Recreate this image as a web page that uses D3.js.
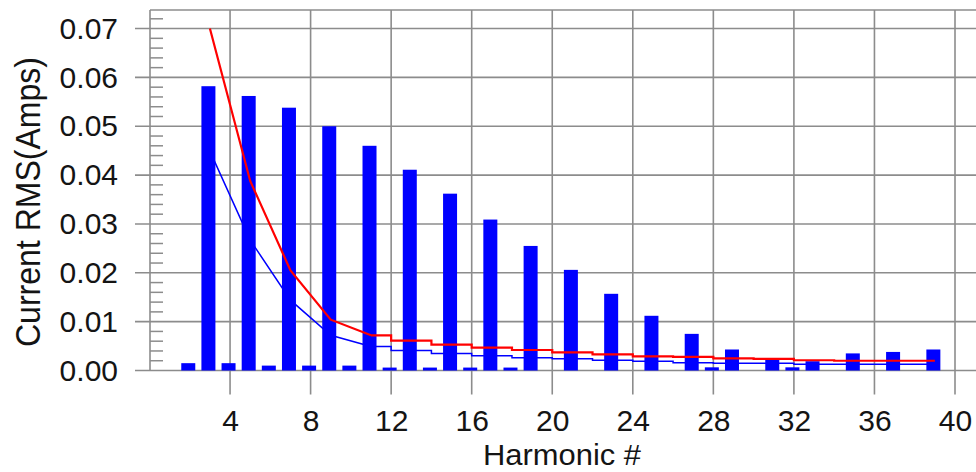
<!DOCTYPE html>
<html><head><meta charset="utf-8">
<script src="https://cdn.jsdelivr.net/npm/d3@7"></script>
<style>html,body{margin:0;padding:0;background:#fff;} svg{display:block}</style>
</head><body><svg id="c" width="976" height="472"></svg>
<script>
// ---- data ----
const harmonics = [2,3,4,5,6,7,8,9,10,11,12,13,14,15,16,17,18,19,20,21,22,23,24,25,26,27,28,29,30,31,32,33,34,35,36,37,38,39];
const measured  = [0.0015,0.0582,0.0015,0.0562,0.0010,0.0538,0.0010,0.0500,0.0010,0.0460,0.0006,0.0411,0.0006,0.0362,0.0006,0.0309,0.0006,0.0255,0,0.0206,0,0.0157,0,0.0112,0,0.0075,0.00065,0.0043,0,0.0024,0.00065,0.0019,0,0.0035,0,0.0038,0,0.0043];
const limitHarmonics = [3,5,7,9,11,13,15,17,19,21,23,25,27,29,31,33,35,37,39];
const limitRed  = [0.0700,0.0388,0.0205,0.0104,0.0072,0.0061,0.0053,0.0047,0.0042,0.0037,0.0033,0.0029,0.0028,0.0025,0.0024,0.0021,0.0020,0.0020,0.0020];
const limitBlue = [0.0449,0.0267,0.0144,0.0072,0.0049,0.0041,0.0035,0.0030,0.0026,0.0024,0.0021,0.0019,0.0016,0.0015,0.0015,0.0013,0.0013,0.0013,0.0013];
const yTicks = [0,0.01,0.02,0.03,0.04,0.05,0.06,0.07];
const yMinorTicks = d3.range(0.002, 0.0735, 0.002);
const xTicks = [4,8,12,16,20,24,28,32,36,40];
const xTitle = "Harmonic #";
const yTitle = "Current RMS(Amps)";

// ---- layout ----
const W = 976, H = 472;
const L = 150, R = 976, T = 10, B = 370.5;
const FONT = "'Liberation Sans', Arial, sans-serif";
const GRID = "#8c8c8c";

const svg = d3.select("#c");
const x = d3.scaleLinear().domain([0, 40]).range([149.5, 955]);
const y = d3.scaleLinear().domain([0, 0.0738]).range([B, T]);

// grid: horizontal
svg.append("g").selectAll("line").data(yTicks).join("line")
  .attr("x1", 135).attr("x2", R)
  .attr("y1", d => y(d)).attr("y2", d => y(d))
  .attr("stroke", GRID).attr("stroke-width", 1.6);
// top border
svg.append("line").attr("x1", L).attr("x2", R).attr("y1", T).attr("y2", T)
  .attr("stroke", GRID).attr("stroke-width", 1.6);
// left border
svg.append("line").attr("x1", L).attr("x2", L).attr("y1", T).attr("y2", B)
  .attr("stroke", GRID).attr("stroke-width", 1.6);
// minor ticks
svg.append("g").selectAll("line")
  .data(yMinorTicks.filter(v => Math.abs(v*100 - Math.round(v*100)) > 1e-6))
  .join("line")
  .attr("x1", L).attr("x2", L + 13)
  .attr("y1", d => y(d)).attr("y2", d => y(d))
  .attr("stroke", GRID).attr("stroke-width", 1.5);
// vertical grid + ticks
svg.append("g").selectAll("line").data(xTicks).join("line")
  .attr("x1", d => x(d)).attr("x2", d => x(d))
  .attr("y1", T).attr("y2", B + 24)
  .attr("stroke", GRID).attr("stroke-width", 1.6);

// axes labels via d3 axes
const yAxis = svg.append("g").attr("transform", `translate(${L},0)`)
  .call(d3.axisLeft(y).tickValues(yTicks).tickFormat(d3.format(".2f")).tickSize(0).tickPadding(32));
yAxis.select(".domain").remove();
yAxis.selectAll("text").attr("font-size", 30).attr("font-family", FONT).attr("fill", "#141414");

const xAxis = svg.append("g").attr("transform", `translate(0,${B})`)
  .call(d3.axisBottom(x).tickValues(xTicks).tickFormat(d3.format("d")).tickSize(0).tickPadding(39));
xAxis.select(".domain").remove();
xAxis.selectAll("text").attr("font-size", 30).attr("font-family", FONT).attr("fill", "#141414");

// bars
const bw = 14;
svg.append("g").selectAll("rect").data(harmonics.map((h, i) => ({h, v: measured[i]})))
  .join("rect")
  .attr("x", d => x(d.h) - bw/2 - 1.5)
  .attr("width", bw)
  .attr("y", d => y(d.v))
  .attr("height", d => Math.max(0, B - y(d.v)))
  .attr("fill", "#0000ff");

// limit lines
function drawLimit(vals, color, width) {
  const pts = limitHarmonics.map((h, i) => [h, vals[i]]);
  const lin = d3.line().x(d => x(d[0])).y(d => y(d[1])).curve(d3.curveLinear);
  const stp = d3.line().x(d => x(d[0])).y(d => y(d[1])).curve(d3.curveStep);
  svg.append("path").attr("d", lin(pts.filter(p => p[0] <= 11)))
    .attr("fill", "none").attr("stroke", color).attr("stroke-width", width);
  svg.append("path").attr("d", stp(pts.filter(p => p[0] >= 11)))
    .attr("fill", "none").attr("stroke", color).attr("stroke-width", width);
}
drawLimit(limitBlue, "#0000ff", 1.5);
drawLimit(limitRed, "#ff0000", 2.2);

// titles
svg.append("text")
  .attr("transform", `translate(562,465) scale(1.03,1)`)
  .attr("text-anchor", "middle")
  .attr("font-size", 30).attr("font-family", FONT).attr("fill", "#141414")
  .text(xTitle);
svg.append("text")
  .attr("transform", `translate(40,202) rotate(-90) scale(0.89,1)`)
  .attr("text-anchor", "middle")
  .attr("font-size", 36).attr("font-family", FONT).attr("fill", "#141414")
  .text(yTitle);
</script>
</body></html>
